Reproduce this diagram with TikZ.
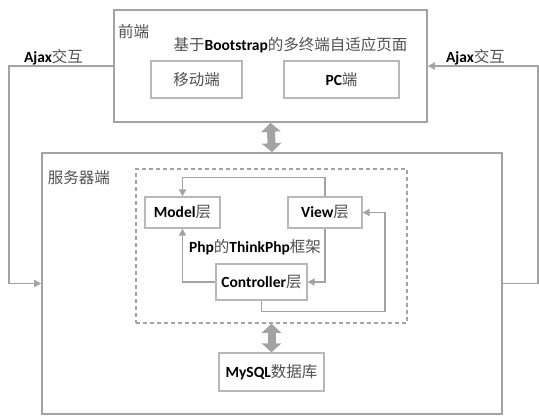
\documentclass[tikz,border=0pt]{standalone}
\usepackage{fontspec}
\setmainfont{Carlito}
\newfontfamily\cjk{Noto Sans CJK SC}
\usetikzlibrary{arrows.meta}
\definecolor{linegray}{HTML}{A3A3A3}
\definecolor{boxgray}{HTML}{B8B8B8}
\definecolor{zhgray}{HTML}{505050}
\newcommand{\zh}[1]{{\cjk\mdseries\color{zhgray}#1}}
\newcommand{\fsz}{\fontsize{15.5}{18}\selectfont}
\tikzset{outer/.style={draw=linegray,line width=1.6pt,inner sep=0pt},
 inner/.style={draw=boxgray,line width=1.2pt,inner sep=0pt,font=\fsz\bfseries},
 lbl/.style={inner sep=0pt,font=\fsz\bfseries},
 arw/.style={-{Triangle[length=7pt,width=7pt]},draw=linegray,line width=1.5pt},
 dbl/.style={{Triangle[length=9pt,width=19pt]}-{Triangle[length=9pt,width=19pt]},draw=linegray,line width=8pt}}

\begin{document}
\begin{tikzpicture}[x=1pt,y=-1pt]
 \useasboundingbox (0,0) rectangle (539,416);
 \node[outer,minimum width=313pt,minimum height=112pt] (front) at (270.5,66) {};
 \node[outer,minimum width=460pt,minimum height=261pt] (server) at (272,283.5) {};
 \node[draw=linegray,line width=1.5pt,dash pattern=on 4pt off 3pt,minimum width=271pt,minimum height=154pt] (frame) at (271.5,246) {};
 \node[lbl] (fronttxt) at (133.5,32) {\zh{前端}};
 \node[lbl] (title) at (290.5,45) {\zh{基于}Bootstrap\zh{的多终端自适应页面}};
 \node[inner,minimum width=91pt,minimum height=37pt] (mobile) at (196.5,79.5) {\zh{移动端}};
 \node[inner,minimum width=115pt,minimum height=37pt] (pc) at (341.5,79.5) {PC\zh{端}};
 \node[lbl] (servertxt) at (79,178) {\zh{服务器端}};
 \node[inner,minimum width=75pt,minimum height=31pt] (model) at (182.5,212.5) {Model\zh{层}};
 \node[inner,minimum width=74pt,minimum height=31pt] (view) at (325,212.5) {View\zh{层}};
 \node[inner,minimum width=91pt,minimum height=36pt] (ctrl) at (261.5,282) {Controller\zh{层}};
 \node[lbl] (php) at (255,247) {Php\zh{的}ThinkPhp\zh{框架}};
 \node[inner,minimum width=105pt,minimum height=38pt] (mysql) at (271.5,372) {MySQL\zh{数据库}};
 \node[lbl] (ajaxl) at (53.5,57) {Ajax\zh{交互}};
 \node[lbl] (ajaxr) at (475.5,57) {Ajax\zh{交互}};
 \draw[arw] (view.north) -- ++(0,-19) -| (model.north);
 \draw[arw] (ctrl.west) -| (model.south);
 \draw[arw] (view.south) |- (ctrl.east);
 \draw[arw] (ctrl.south) -- ++(0,11) -- ++(123.5,0) |- (view.east);
 \draw[arw] (front.west) -- ++(-104,0) |- (server.west);
 \draw[arw] (server.east) -- ++(35,0) |- (front.east);
 \draw[dbl] (front.south) -- (server.north);
 \draw[dbl] (frame.south) -- (mysql.north);
\end{tikzpicture}
\end{document}
